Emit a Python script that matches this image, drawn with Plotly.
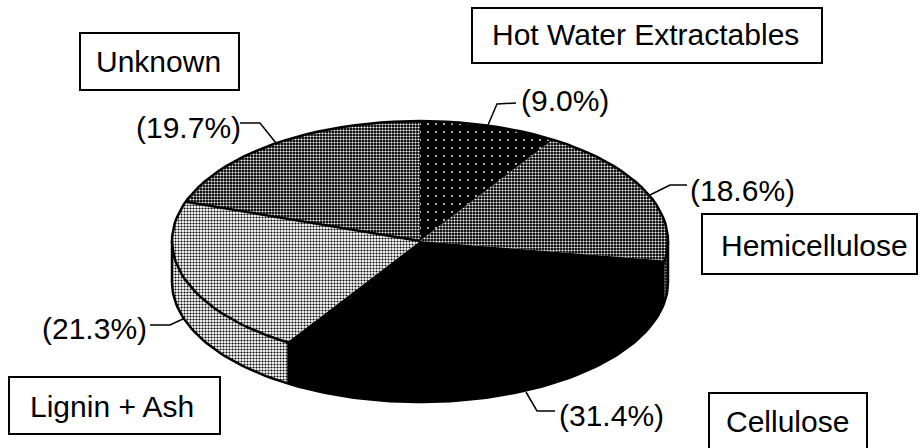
import numpy as np
import plotly.graph_objects as go

# slice values in percent, clockwise from 12 o'clock
components = ['Hot Water Extractables', 'Hemicellulose', 'Cellulose', 'Lignin + Ash', 'Unknown']
percents = [9.0, 18.6, 31.4, 21.3, 19.7]

# halftone look of the scanned slices: (bg, fg, dot size, solidity)
patterns = [
    ('#000000', '#ffffff', 8, 0.04),
    ('#000000', '#ffffff', 3, 0.38),
    ('#000000', '#000000', 3, 0.5),
    ('#ffffff', '#000000', 3, 0.4),
    ('#000000', '#ffffff', 3, 0.38),
]

# pie geometry on the page, axes are in page pixels
cx, cy = 420, 241
rx, ry = 248, 120
depth = 41
font = 'Liberation Sans, Arial, sans-serif'
font_size = 30


def rim(t_start, t_end, dy=0):
    # Points along the ellipse, t in degrees clockwise from the top
    t = np.radians(np.linspace(t_start, t_end, 120))
    return cx + rx*np.sin(t), cy - ry*np.cos(t) + dy


def pattern(i):
    bg, fg, size, solidity = patterns[i]
    return dict(shape='.', bgcolor=bg, fgcolor=fg, size=size, solidity=solidity, fillmode='replace')


fig = go.Figure()

cum = np.cumsum([0] + percents) * 3.6

# Side wall first, only the front half of the disc shows
for i in range(len(percents)):
    t0, t1 = max(cum[i], 90), min(cum[i+1], 270)
    if t0 >= t1:
        continue
    x_top, y_top = rim(t0, t1)
    x_bot, y_bot = rim(t1, t0, depth)
    fig.add_trace(go.Scatter(x=np.r_[x_top, x_bot], y=np.r_[y_top, y_bot], mode='lines', fill='toself',
                             fillpattern=pattern(i), line=dict(width=0), hoverinfo='skip'))

# Top face
for i in range(len(percents)):
    x_arc, y_arc = rim(cum[i], cum[i+1])
    fig.add_trace(go.Scatter(x=np.r_[cx, x_arc, cx], y=np.r_[cy, y_arc, cy], mode='lines', fill='toself',
                             fillpattern=pattern(i), line=dict(width=0), name=components[i],
                             hoverinfo='name'))

# Outlines: top rim, bottom rim, the two edges and the Unknown/Lignin divider
outline = dict(color='black', width=2.5)
x_arc, y_arc = rim(0, 360)
fig.add_trace(go.Scatter(x=x_arc, y=y_arc, mode='lines', line=outline, hoverinfo='skip'))
x_arc, y_arc = rim(90, 270, depth)
fig.add_trace(go.Scatter(x=x_arc, y=y_arc, mode='lines', line=outline, hoverinfo='skip'))
x_arc, y_arc = rim(cum[4], cum[4])
fig.add_trace(go.Scatter(x=[cx, x_arc[0]], y=[cy, y_arc[0]], mode='lines', line=outline, hoverinfo='skip'))
for t in [90, 270]:
    x_arc, y_arc = rim(t, t)
    fig.add_trace(go.Scatter(x=[x_arc[0], x_arc[0]], y=[y_arc[0], y_arc[0]+depth], mode='lines',
                             line=outline, hoverinfo='skip'))

# Boxed names: box x0, y0, x1, y1 and text centre, in order of components
boxes = [(472, 8, 822, 63), (702, 214, 917, 274), (709, 393, 867, 470), (9, 377, 220, 434), (80, 33, 239, 90)]
name_pos = [(645, 34), (814, 245), (787, 421), (112, 406), (158, 61)]
for name, (x0, y0, x1, y1), (x, y) in zip(components, boxes, name_pos):
    fig.add_shape(type='rect', x0=x0, y0=y0, x1=x1, y1=y1, line=dict(color='black', width=2), fillcolor='white')
    fig.add_annotation(x=x, y=y, text=name, showarrow=False, font=dict(family=font, size=font_size, color='black'))

# Percent labels with their leader lines
label_pos = [(565, 100), (742, 190), (611, 415), (94, 328), (188, 127)]
leaders = [
    [(488, 125), (497, 104), (516, 103)],
    [(650, 195), (670, 185), (687, 185)],
    [(526, 392), (537, 411), (555, 411)],
    [(150, 325), (170, 325), (185, 318)],
    [(240, 123), (260, 123), (276, 143)],
]
for p, (x, y), leader in zip(percents, label_pos, leaders):
    fig.add_annotation(x=x, y=y, text=f'({p:.1f}%)', showarrow=False, font=dict(family=font, size=font_size, color='black'))
    fig.add_trace(go.Scatter(x=[q[0] for q in leader], y=[q[1] for q in leader], mode='lines',
                             line=dict(color='black', width=1.5), hoverinfo='skip'))

fig.update_layout(width=920, height=448, margin=dict(l=0, r=0, t=0, b=0), showlegend=False,
                  paper_bgcolor='white', plot_bgcolor='white',
                  xaxis=dict(range=[0, 920], visible=False),
                  yaxis=dict(range=[448, 0], visible=False))

# page body has a default margin that would push the figure off by 8px
fig.write_html("out.html", config=dict(displayModeBar=False), post_script="document.body.style.margin='0';")
